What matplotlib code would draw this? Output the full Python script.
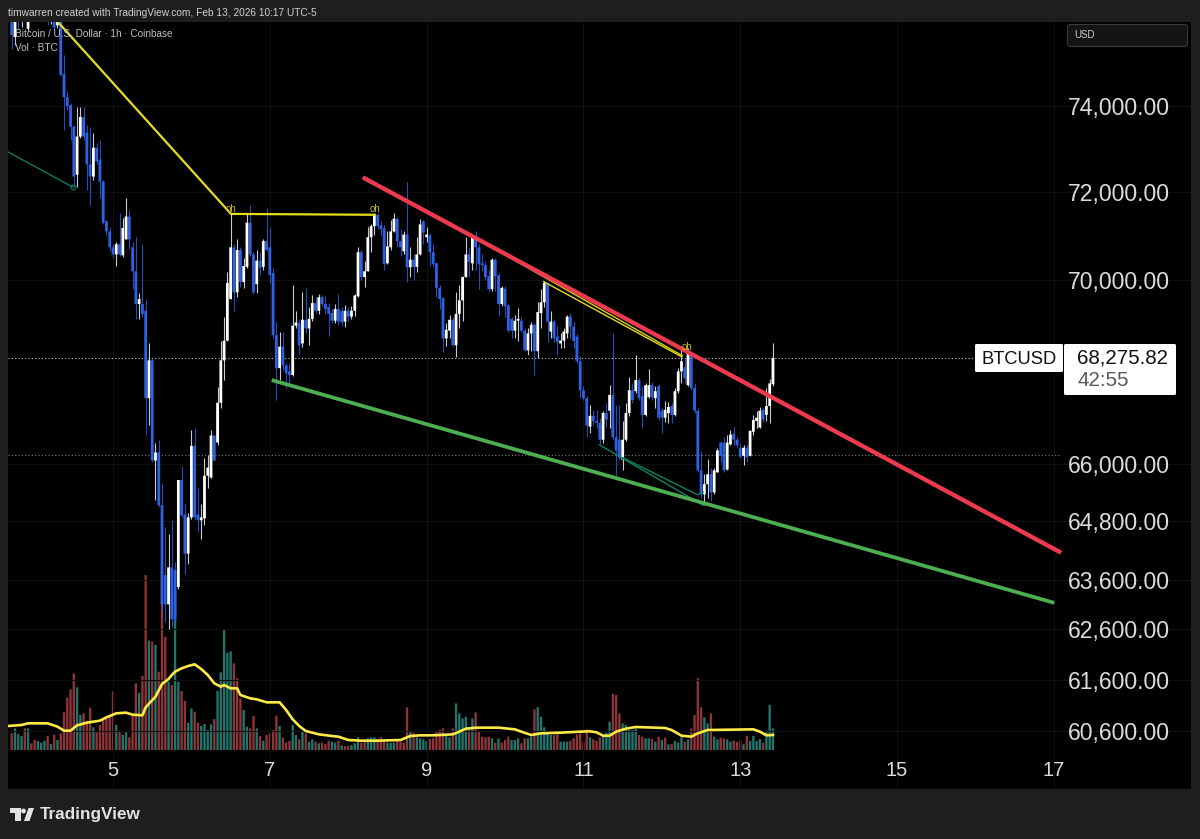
import numpy as np
import matplotlib
matplotlib.use("Agg")
import matplotlib.pyplot as plt
from matplotlib.patches import Rectangle, Polygon, Circle, FancyBboxPatch
from matplotlib.ticker import NullLocator, NullFormatter

plt.rcParams['font.family'] = ['Liberation Sans', 'DejaVu Sans']

# ---------- data (BTC/USD, 1h candles, hours counted from Feb 5 00:00) ----------
first_hour = -31
opens = [
76400,75650,76270,76150,76150,75850,76630,76500,76200,76450,
76150,76400,76100,76400,75930,76170,74760,74210,74020,73510,
72390,73280,73740,73370,72630,72350,73020,72740,72230,71320,
71090,70730,70570,70800,70550,70910,71430,70730,70190,69460,
69460,69310,67400,68220,66070,66240,65130,63690,63100,63850,
63800,63450,65660,64940,64130,64880,66380,64940,64820,64860,
65750,65710,66600,66450,67300,68220,68650,69570,70730,69720,
70670,69950,70290,71290,70570,69900,70430,70290,70870,70730,
70150,68770,68050,68520,68110,67980,67900,68980,69030,68590,
69110,68920,69130,69480,69310,69610,69460,69390,69260,69090,
69350,69310,69070,69310,69180,69310,69630,70620,70060,70190,
70960,71210,71470,71230,71160,70370,70730,71090,71380,70870,
70640,71020,70280,70450,70290,70570,71320,70960,71000,70620,
70370,69820,69590,68700,68870,69110,68550,69240,69540,70060,
70570,70370,70960,70730,70370,70330,70080,69790,70450,70100,
69460,69800,69430,69130,68870,69090,69090,68870,68440,68810,
69000,68420,69260,69500,69930,68850,69070,68740,68590,68650,
68810,69180,68960,68740,68200,67570,67400,66790,67020,66910,
66870,66510,67080,67130,67470,66560,66510,66090,66510,67080,
67570,67550,67790,67440,67040,67420,67680,67400,67660,67130,
66980,67080,67230,67040,67550,67980,68070,67680,68330,67620,
67130,65860,65360,65570,65780,65400,65820,66450,66450,65880,
66410,66640,66510,66340,66170,66340,66170,66680,66910,66770,
67150,67040,67230,67700]
closes = [
75700,76270,76150,76350,76500,76270,76400,76200,76450,76200,
76400,76100,76350,75880,76180,74730,74210,74000,73510,72350,
73280,73740,73280,72630,72350,73020,72700,72230,71290,71090,
70730,70570,70800,70570,71170,71430,70910,70190,69460,69570,
69240,67400,68220,66070,66240,65130,63100,63100,63850,62800,
62800,65660,64920,64130,64880,66380,64880,64820,64880,65750,
65920,66600,66070,67300,68220,68650,69930,70730,69720,70670,
69950,70310,71290,70570,69720,70430,70270,70870,70670,70110,
68770,68050,68520,68110,67940,67900,68980,69050,68550,69110,
68920,69130,69480,69310,69610,69460,69350,69240,69090,69350,
69070,69050,69310,69180,69310,69650,70620,70060,70190,70960,
71210,71470,71210,71140,70350,70750,71090,71380,70870,70730,
71020,70280,70450,70290,70570,71250,71070,71020,70620,70350,
69820,69570,68700,68890,69110,68550,69240,69540,70060,70570,
70400,70960,70730,70350,70330,70060,69790,70450,70080,69460,
69820,69410,68870,68870,69090,69130,68870,68440,68810,69000,
68420,69280,69500,69930,69070,69070,68700,68620,68650,68850,
69180,68960,68640,68200,67570,67400,66810,67020,66910,66870,
66510,67080,66940,67470,66560,66280,66130,66510,67080,67570,
67360,67790,67400,67040,67680,67680,67420,67550,66980,66980,
67150,67210,67040,67550,67980,68200,67830,68370,67620,67130,
65860,65360,65570,65780,65400,65860,66280,66170,65860,66450,
66620,66510,66390,66150,66340,66130,66700,66930,66980,67130,
66940,67230,67720,68275.82]
highs = [
76600,76400,76400,76500,76650,76400,76700,76650,76600,76550,
76550,76500,76450,76500,76300,76280,75210,74350,74070,73560,
73980,73980,73980,73560,73510,73370,73140,73210,72280,71360,
71180,70800,70840,71520,71400,71860,71590,70850,70960,69710,
70790,69570,68590,68260,66450,66510,65600,64680,64540,64820,
63950,65660,65960,65150,64980,66720,66760,65500,65150,66130,
66180,66720,66620,67650,68650,69170,70180,71520,70800,70910,
70730,70490,71520,71700,70620,70670,70630,70910,71630,71180,
70270,69070,68830,68830,68160,68160,69890,69310,69130,69720,
69820,69390,69650,69610,69680,69650,69630,69480,69350,69460,
69680,69390,69440,69390,69410,69680,70730,70670,70420,71180,
71250,71500,71500,71320,71230,71090,71360,71500,71410,71140,
71090,72230,70730,70570,70960,71380,71360,71180,71050,70820,
70400,69890,69610,69030,69220,69180,69720,69890,70080,70960,
70730,70980,71110,70800,70570,70420,70230,70490,70490,70150,
69870,69870,69460,69180,69220,69370,69180,68920,68920,69070,
69030,69500,69790,69980,69930,69310,69130,68980,68810,68920,
69220,69260,69090,68790,68310,67660,67440,67250,67150,67150,
66980,67130,67290,67680,68810,67250,67250,66920,67290,67850,
67720,68330,67830,67660,67720,68030,67750,67660,67700,67190,
67340,67320,67290,67620,68050,68480,68270,68480,68370,67720,
67190,66280,65780,66110,65920,65920,66340,66490,66560,66600,
66720,66810,66560,66450,66390,66410,66720,67040,67130,67210,
67190,67620,67810,68590]
lows = [
75350,75450,75850,75900,76050,75800,76150,76080,76150,76080,
76100,75950,75970,75830,75880,74730,73440,73910,73210,72110,
72110,73250,73210,72040,71700,72280,72630,71860,71250,71020,
70640,70510,70300,70530,70510,70910,70690,69790,69130,69130,
69170,66600,66830,66030,65250,65090,62940,62740,62600,62640,
62740,63410,64880,63720,63920,64840,64840,64570,64430,64720,
65500,65710,66070,66390,67190,67790,68650,69570,69310,69610,
69840,69820,70270,70530,69680,69700,70110,70230,70640,69930,
68700,67360,67790,68010,67620,67680,67880,68920,68330,68520,
68810,68550,69090,69260,69240,69410,69240,68750,69030,69030,
69000,68980,68960,69090,69130,69200,69610,70000,69840,70190,
70620,71020,71140,70980,70230,70350,70670,71070,70730,70530,
70570,69960,70060,70000,70180,70550,70800,70850,70310,70280,
69610,69350,68400,68530,68700,68530,68290,68920,69090,70060,
70060,70230,70230,69800,70190,70000,69720,69760,69740,69200,
69410,69180,68850,68700,68700,68650,68830,68420,68330,68420,
67900,68270,68920,69390,68620,68700,68620,68330,68480,68480,
68700,68700,68480,68160,67400,67360,66560,66660,66830,66770,
66410,66450,66790,66770,66510,65750,66070,65860,66490,67020,
67290,67510,67360,66770,67020,67400,67360,67190,66930,66660,
66890,66870,66870,67020,67510,67720,67720,67660,67570,67080,
65820,65290,65130,65290,65210,65360,65820,66030,65820,65860,
66390,66390,66340,66130,65980,66030,66170,66620,66770,66770,
66890,66910,66870,67660]

volumes = [
50,65,48,42,65,65,20,30,27,22,
28,42,18,46,30,50,113,157,182,230,
188,105,110,88,127,68,53,75,90,95,
105,176,75,58,45,53,38,105,200,172,
222,525,328,325,315,235,546,340,205,195,
480,205,177,147,82,125,115,82,72,78,
60,77,93,177,233,362,292,296,260,215,
155,120,70,65,102,65,42,28,45,50,
60,103,72,37,22,27,75,45,32,55,
50,25,32,25,20,22,18,28,25,22,
28,14,12,12,15,20,38,22,25,35,
38,38,32,38,28,22,22,22,28,
25,22,128,58,52,38,35,32,27,33,
35,57,60,65,42,38,65,140,110,95,
100,65,95,113,58,40,38,40,35,22,
35,22,30,40,30,30,35,20,35,35,
40,122,128,100,68,48,45,45,47,25,
25,25,28,35,47,50,25,62,38,32,
27,38,40,52,85,168,165,110,80,75,
60,60,65,45,40,35,35,33,25,40,
30,37,17,18,27,22,38,25,32,65,
105,215,128,98,80,110,40,32,37,35,
32,25,28,25,28,17,43,27,42,27,
33,22,55,135,65]
vol_side_rows = [
"rtttrtrrtt","trtrtrrrrr","ttrrrtrrrr","rrtrttrrrt",
"rrtrtrrrtr","ttrrttrrtt","ttrtttttrr","rttrrtrtrr",
"rrtrrrttrt","rttrtrrrtt","rtrrtttrrt","ttrrrtttr",
"rrrtrttttr","rrrrttrttt","trtrrrrrtr","trrrtttrrt",
"trtttttrrt","ttrrrrrrtr","rrtttrrrtt","tttrrttrtr",
"trtrtttrtr","rrrttrttrr","ttrrrtrttt","trttt"]
vol_side = "".join(vol_side_rows)

vol_ma_hours = [-32.1,-28,-26,-20,-17,-15,-13,-11,-8,-4,-2,1,4,6,9,10,13,15,17,18,19,21,23,25,27,29,31,33,34,36,38,39,42,44,47,51,53,55,57,59,63,67,69,72,76,81,88,91,94,98,104,106,108,111,118,123,125,128,131,137,143,146,148,150,152,154,157,160,169,171,174,177,179,182,196,198,200,202]
vol_ma = [72,75,80,80,70,58,58,74,82,88,98,110,112,106,104,128,160,198,213,225,235,245,252,257,243,225,200,190,195,185,185,165,155,152,143,143,120,92,72,57,47,42,40,30,28,28,30,42,44,44,47,55,64,67,67,62,55,45,50,52,55,56,53,43,43,55,64,69,66,60,43,40,50,60,62,55,44,45]

price_ticks = [74000,72000,70000,66000,64800,63600,62600,61600,60600]
price_labels = ["74,000.00","72,000.00","70,000.00","66,000.00","64,800.00","63,600.00","62,600.00","61,600.00","60,600.00"]
day_ticks = [0,48,96,144,192,240,288]
day_labels = ["5","7","9","11","13","15","17"]
last_price = 68275.82
level_dotted = 66190

red_h, red_p = [76.45,290.2], [72330,64150]
green_h, green_p = [48.6,288.1], [67790,63130]
yellow_h, yellow_p = [-16.8,36.1,80.1], [76010,71490,71470]
yellow2_h, yellow2_p = [131.8,174], [69960,68300]
yellow3_h, yellow3_p = [109.8,174.3], [70990,68320]
teal1_h, teal1_p = [-32.1,-12.2], [72920,72100]
teal2_h, teal2_p = [148.9,180.7], [66400,65130]
teal3_h, teal3_p = [156,178.9,180.7], [66130,65350,65400]
oh_h, oh_p = [36.1,80.1,175.8], [71490,71490,68400]

assert len(opens)==len(closes)==len(highs)==len(lows)==len(volumes)==len(vol_side)==234, (len(opens),len(closes),len(highs),len(lows),len(volumes),len(vol_side))
assert len(vol_ma)==len(vol_ma_hours), (len(vol_ma),len(vol_ma_hours))

# ---------- layout ----------
W,H = 1200,839
BG = "#1e1e1e"
L,R,T,B = 8,1191,22,789
fig = plt.figure(figsize=(12,8.39), dpi=100, facecolor=BG)
pos = [L/W, 1-B/H, (R-L)/W, (B-T)/H]

vol_ax = fig.add_axes(pos, facecolor="black", zorder=1)
ax = fig.add_axes(pos, facecolor="none", zorder=2)
xlim = (-32.14, 329.96)
for a in (vol_ax, ax):
    a.set_xlim(*xlim)

hours = np.arange(first_hour, first_hour+len(opens))
o,c,h,l = map(np.array,(opens,closes,highs,lows))

def unsnap(container):
    for p in container:
        p.set_snap(False)

# volume pane
vol_ax.set_ylim(-117,2184)
side = np.array(list(vol_side))
vol = np.array(volumes)
unsnap(vol_ax.bar(hours[side=="r"], vol[side=="r"], width=0.72, color="#8f3439", linewidth=0))
unsnap(vol_ax.bar(hours[side=="t"], vol[side=="t"], width=0.72, color="#22756d", linewidth=0))
vol_ax.set_xticks([]); vol_ax.set_yticks([])
for s in vol_ax.spines.values(): s.set_visible(False)

# price pane
ax.set_yscale("log")
ax.set_ylim(59482,76014)
ax.yaxis.tick_right()
ax.set_yticks(price_ticks, labels=price_labels)
ax.yaxis.set_minor_locator(NullLocator()); ax.yaxis.set_minor_formatter(NullFormatter())
ax.tick_params(axis="y", length=0, pad=-15.5, labelsize=16.6, labelcolor="#dcdcdc")
for t in ax.get_yticklabels(): t.set_ha("right")
ax.set_xticks(day_ticks, labels=day_labels)
ax.tick_params(axis="x", length=0, pad=-20, labelsize=14.5, labelcolor="#dcdcdc")
ax.grid(True, color="#101010", linewidth=0.8, zorder=0)
ax.set_axisbelow(True)
for s in ax.spines.values(): s.set_visible(False)

ax.hlines(level_dotted, xlim[0], (1060-113)/3.267, colors="#7a7a7a", linestyles=(0,(1,2)), linewidth=0.8, zorder=1)
ax.hlines(last_price, xlim[0], (975-113)/3.267, colors="#c8c8c8", linestyles=(0,(1,2)), linewidth=0.8, zorder=1)

up = c>=o
for mask,col in ((~up,"#2e62e6"),(up,"#ffffff")):
    ax.vlines(hours[mask], l[mask], h[mask], colors=col, linewidth=0.8, alpha=0.8, zorder=3)
    unsnap(ax.bar(hours[mask], np.abs(c-o)[mask], bottom=np.minimum(o,c)[mask], width=0.85, color=col, linewidth=0, zorder=4))

# drawings
ax.plot(teal1_h, teal1_p, color="#0e7a5f", lw=1.0, zorder=5)
ax.plot(teal1_h[-1:], teal1_p[-1:], "o", mfc="none", mec="#0e7a5f", ms=3.5, mew=0.8, zorder=5)
ax.plot(teal2_h, teal2_p, color="#0e8068", lw=1.0, zorder=5)
ax.plot(teal3_h, teal3_p, color="#0e8068", lw=1.0, zorder=5)
ax.plot(yellow_h, yellow_p, color="#e6dc1e", lw=1.6, zorder=5)
ax.plot(yellow3_h, yellow3_p, color="#d8cf1c", lw=1.0, zorder=5)
ax.plot(yellow2_h, yellow2_p, color="#e6dc1e", lw=1.0, zorder=5)
ax.plot(red_h, red_p, color="#ee3a4e", lw=3.1, solid_capstyle="butt", zorder=6)
ax.plot(green_h, green_p, color="#4caf50", lw=2.7, solid_capstyle="butt", zorder=6)
for xh,pp in zip(oh_h,oh_p):
    ax.text(xh, pp, "oh", color="#c8bf1a", fontsize=7, ha="center", va="bottom", zorder=7)

# volume moving average on top of bars
ma_ax = fig.add_axes(pos, facecolor="none", zorder=3)
ma_ax.set_xlim(*xlim); ma_ax.set_ylim(-117,2184); ma_ax.axis("off")
ma_ax.plot(vol_ma_hours, vol_ma, color="#fdea45", lw=1.9)

# ---------- pixel overlay: frame texts, labels ----------
px = fig.add_axes([0,0,1,1], facecolor="none", zorder=4)
px.set_xlim(0,W); px.set_ylim(H,0); px.axis("off")

px.text(8,13,"timwarren created with TradingView.com, Feb 13, 2026 10:17 UTC-5",color="#d0d0d0",fontsize=7.3,va="center")
px.text(15,34,"Bitcoin / U.S. Dollar · 1h · Coinbase",color="#c0c0c0",fontsize=7.2,va="center")
px.text(15,48,"Vol · BTC",color="#c0c0c0",fontsize=7.2,va="center")

px.add_patch(FancyBboxPatch((1069,26),117,19,boxstyle="round,pad=1.5,rounding_size=3",fc="#141414",ec="#3a3a3a",lw=0.8))
px.text(1074,35,"USD",color="#d0d0d0",fontsize=7,va="center")

px.add_patch(FancyBboxPatch((976,345),86,26,boxstyle="round,pad=1,rounding_size=1.5",fc="white",ec="none"))
px.add_patch(FancyBboxPatch((1065,345),110,49,boxstyle="round,pad=1,rounding_size=1.5",fc="white",ec="none"))
px.text(1019,359.5,"BTCUSD",color="#111111",fontsize=13.2,ha="center",va="center")
px.text(1077,358,"68,275.82",color="#111111",fontsize=14.9,va="center")
px.text(1077,381,"42:55",color="#5a5a5a",fontsize=14.9,va="center")

# TradingView logo and wordmark
logo = "#e2e2e2"
px.add_patch(Polygon([(9.5,808),(21,808),(21,821),(15,821),(15,813),(9.5,813)],fc=logo,ec="none"))
px.add_patch(Circle((23.5,811),2.4,fc=logo,ec="none"))
px.add_patch(Polygon([(28.5,808),(34,808),(29.5,821),(24,821)],fc=logo,ec="none"))
px.text(40,815,"TradingView",color=logo,fontsize=12.3,fontweight="bold",va="center")

fig.savefig("out.png", dpi=100, facecolor=BG)
